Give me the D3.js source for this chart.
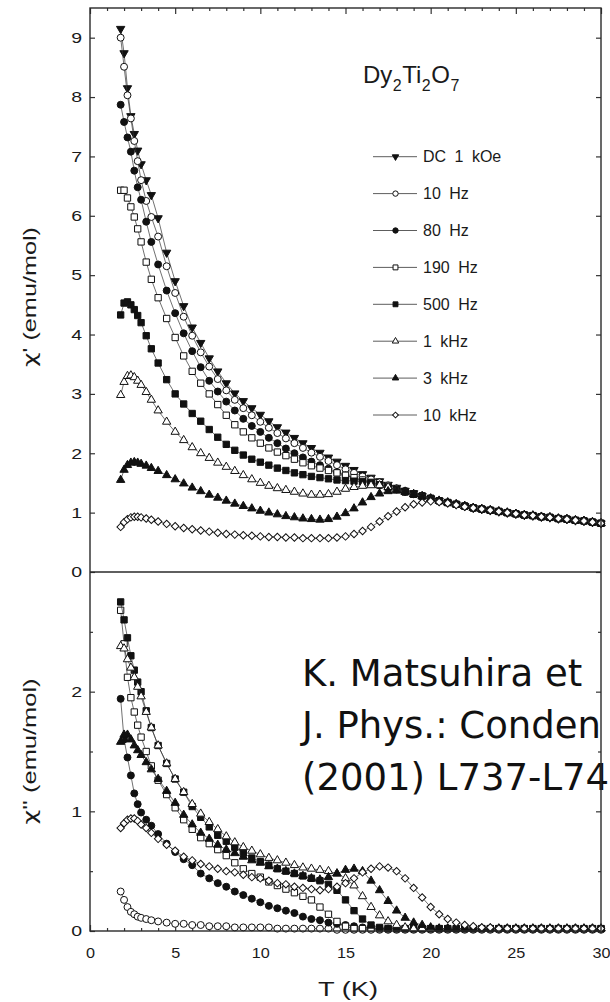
<!DOCTYPE html>
<html>
<head>
<meta charset="utf-8">
<script src="https://cdn.jsdelivr.net/npm/d3@7"></script>
<style>
  body { margin: 0; background: #fff; }
  svg { display: block; }
</style>
</head>
<body>
<svg id="chart" width="610" height="1002"></svg>
<script>
// Temperatures (K) shared by every measurement run
const temperatures = [
  1.8, 2.0, 2.2, 2.4, 2.6, 2.8, 3.0, 3.3, 3.6, 4.0,
  4.5, 5, 5.5, 6, 6.5, 7, 7.5, 8, 8.5, 9,
  9.5, 10, 10.5, 11, 11.5, 12, 12.5, 13, 13.5, 14,
  14.5, 15, 15.5, 16, 16.5, 17, 17.5, 18, 18.5, 19,
  19.5, 20, 20.5, 21, 21.5, 22, 22.5, 23, 23.5, 24,
  24.5, 25, 25.5, 26, 26.5, 27, 27.5, 28, 28.5, 29,
  29.5, 30
];

const seriesLabels = ["DC 1 kOe", "10 Hz", "80 Hz", "190 Hz", "500 Hz", "1 kHz", "3 kHz", "10 kHz"];

// chi' (emu/mol)
const chiRealDC = [
  9.15, 8.74, 8.15, 7.68, 7.38, 7.10, 6.87, 6.60, 6.35, 5.96,
  5.38, 4.90, 4.48, 4.12, 3.86, 3.60, 3.38, 3.18, 3.01, 2.88,
  2.76, 2.65, 2.54, 2.44, 2.35, 2.26, 2.17, 2.09, 2.01, 1.93,
  1.86, 1.79, 1.72, 1.65, 1.59, 1.53, 1.47, 1.42, 1.37, 1.33,
  1.28, 1.24, 1.20, 1.17, 1.14, 1.11, 1.08, 1.06, 1.04, 1.02,
  1.00, 0.98, 0.96, 0.95, 0.93, 0.92, 0.90, 0.89, 0.87, 0.86,
  0.84, 0.82
];
const chiReal10Hz = [
  9.00, 8.51, 8.03, 7.64, 7.26, 6.92, 6.60, 6.25, 5.98, 5.65,
  5.15, 4.70, 4.30, 3.98, 3.70, 3.46, 3.25, 3.06, 2.90, 2.76,
  2.64, 2.53, 2.43, 2.34, 2.25, 2.17, 2.09, 2.01, 1.94, 1.87,
  1.80, 1.73, 1.67, 1.61, 1.56, 1.51, 1.46, 1.41, 1.37, 1.32,
  1.28, 1.24, 1.20, 1.17, 1.14, 1.11, 1.08, 1.06, 1.04, 1.02,
  1.00, 0.98, 0.96, 0.95, 0.93, 0.92, 0.90, 0.89, 0.87, 0.86,
  0.84, 0.82
];
const chiReal80Hz = [
  7.87, 7.58, 7.32, 7.08, 6.76, 6.48, 6.27, 5.90, 5.56, 5.18,
  4.74, 4.36, 4.02, 3.72, 3.45, 3.22, 3.04, 2.87, 2.72, 2.58,
  2.46, 2.36, 2.26, 2.17, 2.08, 2.00, 1.93, 1.86, 1.80, 1.74,
  1.68, 1.63, 1.58, 1.54, 1.50, 1.46, 1.42, 1.39, 1.35, 1.31,
  1.28, 1.24, 1.20, 1.17, 1.14, 1.11, 1.08, 1.06, 1.04, 1.02,
  1.00, 0.98, 0.96, 0.95, 0.93, 0.92, 0.90, 0.89, 0.87, 0.86,
  0.84, 0.82
];
const chiReal190Hz = [
  6.43, 6.43, 6.30, 6.15, 5.98, 5.78, 5.56, 5.22, 4.93, 4.62,
  4.27, 3.95, 3.64, 3.38, 3.18, 3.00, 2.82, 2.64, 2.48, 2.36,
  2.26, 2.17, 2.09, 2.02, 1.96, 1.90, 1.84, 1.79, 1.75, 1.71,
  1.67, 1.63, 1.59, 1.55, 1.51, 1.47, 1.43, 1.39, 1.35, 1.31,
  1.28, 1.24, 1.20, 1.17, 1.14, 1.11, 1.08, 1.06, 1.04, 1.02,
  1.00, 0.98, 0.96, 0.95, 0.93, 0.92, 0.90, 0.89, 0.87, 0.86,
  0.84, 0.82
];
const chiReal500Hz = [
  4.33, 4.53, 4.55, 4.50, 4.42, 4.32, 4.20, 3.98, 3.76, 3.52,
  3.24, 3.00, 2.83, 2.67, 2.54, 2.40, 2.27, 2.15, 2.05, 1.97,
  1.90, 1.85, 1.80, 1.75, 1.71, 1.67, 1.64, 1.61, 1.59, 1.57,
  1.55, 1.54, 1.53, 1.52, 1.50, 1.47, 1.43, 1.39, 1.35, 1.31,
  1.28, 1.24, 1.20, 1.17, 1.14, 1.11, 1.08, 1.06, 1.04, 1.02,
  1.00, 0.98, 0.96, 0.95, 0.93, 0.92, 0.90, 0.89, 0.87, 0.86,
  0.84, 0.82
];
const chiReal1kHz = [
  2.98, 3.20, 3.30, 3.31, 3.28, 3.22, 3.15, 3.03, 2.90, 2.72,
  2.53, 2.36, 2.22, 2.10, 2.00, 1.92, 1.84, 1.77, 1.70, 1.63,
  1.56, 1.50, 1.45, 1.41, 1.38, 1.35, 1.32, 1.30, 1.30, 1.31,
  1.35, 1.40, 1.43, 1.45, 1.46, 1.46, 1.43, 1.39, 1.35, 1.31,
  1.28, 1.24, 1.20, 1.17, 1.14, 1.11, 1.08, 1.06, 1.04, 1.02,
  1.00, 0.98, 0.96, 0.95, 0.93, 0.92, 0.90, 0.89, 0.87, 0.86,
  0.84, 0.82
];
const chiReal3kHz = [
  1.55, 1.72, 1.80, 1.84, 1.85, 1.84, 1.82, 1.79, 1.75, 1.70,
  1.63, 1.56, 1.49, 1.42, 1.36, 1.30, 1.25, 1.20, 1.15, 1.11,
  1.07, 1.03, 1.00, 0.97, 0.94, 0.92, 0.90, 0.89, 0.88, 0.89,
  0.93, 0.99, 1.07, 1.17, 1.26, 1.32, 1.36, 1.37, 1.35, 1.31,
  1.27, 1.23, 1.20, 1.17, 1.14, 1.11, 1.08, 1.06, 1.04, 1.02,
  1.00, 0.98, 0.96, 0.95, 0.93, 0.92, 0.90, 0.89, 0.87, 0.86,
  0.84, 0.82
];
const chiReal10kHz = [
  0.76, 0.84, 0.89, 0.92, 0.93, 0.93, 0.92, 0.90, 0.88, 0.85,
  0.81, 0.77, 0.74, 0.72, 0.70, 0.68, 0.66, 0.64, 0.63, 0.62,
  0.61, 0.60, 0.59, 0.59, 0.58, 0.58, 0.57, 0.57, 0.57, 0.57,
  0.58, 0.60, 0.64, 0.69, 0.76, 0.85, 0.94, 1.02, 1.09, 1.14,
  1.17, 1.19, 1.18, 1.16, 1.13, 1.10, 1.08, 1.06, 1.04, 1.02,
  1.00, 0.98, 0.96, 0.95, 0.93, 0.92, 0.90, 0.89, 0.87, 0.86,
  0.84, 0.82
];

// chi'' (emu/mol), ac runs only
const chiImag10Hz = [
  0.33, 0.26, 0.20, 0.16, 0.14, 0.12, 0.11, 0.10, 0.09, 0.08,
  0.07, 0.06, 0.06, 0.05, 0.05, 0.04, 0.04, 0.04, 0.03, 0.03,
  0.03, 0.03, 0.03, 0.02, 0.02, 0.02, 0.02, 0.02, 0.02, 0.02,
  0.01, 0.01, 0.01, 0.01, 0.01, 0.01, 0.01, 0.01, 0.01, 0.01,
  0.01, 0.01, 0.01, 0.01, 0.01, 0.01, 0.01, 0.01, 0.01, 0.01,
  0.01, 0.01, 0.01, 0.01, 0.01, 0.01, 0.01, 0.01, 0.01, 0.01,
  0.01, 0.01
];
const chiImag80Hz = [
  1.94, 1.60, 1.45, 1.30, 1.15, 1.06, 0.99, 0.93, 0.88, 0.81,
  0.73, 0.66, 0.60, 0.55, 0.48, 0.44, 0.40, 0.37, 0.33, 0.30,
  0.27, 0.24, 0.21, 0.19, 0.17, 0.15, 0.12, 0.10, 0.09, 0.07,
  0.06, 0.05, 0.04, 0.03, 0.03, 0.02, 0.02, 0.02, 0.02, 0.02,
  0.02, 0.02, 0.02, 0.02, 0.02, 0.02, 0.02, 0.02, 0.02, 0.02,
  0.02, 0.02, 0.02, 0.02, 0.02, 0.02, 0.02, 0.02, 0.02, 0.02,
  0.02, 0.02
];
const chiImag190Hz = [
  2.68, 2.40, 2.12, 1.95, 1.83, 1.72, 1.62, 1.50, 1.38, 1.26,
  1.14, 1.03, 0.93, 0.85, 0.78, 0.73, 0.68, 0.63, 0.57, 0.52,
  0.48, 0.45, 0.41, 0.38, 0.35, 0.32, 0.29, 0.26, 0.20, 0.14,
  0.08, 0.04, 0.02, 0.02, 0.02, 0.02, 0.02, 0.02, 0.02, 0.02,
  0.02, 0.02, 0.02, 0.02, 0.02, 0.02, 0.02, 0.02, 0.02, 0.02,
  0.02, 0.02, 0.02, 0.02, 0.02, 0.02, 0.02, 0.02, 0.02, 0.02,
  0.02, 0.02
];
const chiImag500Hz = [
  2.75, 2.60, 2.45, 2.30, 2.18, 2.08, 2.00, 1.84, 1.70, 1.55,
  1.40, 1.27, 1.16, 1.04, 0.95, 0.87, 0.80, 0.75, 0.70, 0.65,
  0.61, 0.58, 0.55, 0.52, 0.50, 0.48, 0.46, 0.44, 0.42, 0.39,
  0.34, 0.26, 0.17, 0.10, 0.05, 0.03, 0.02, 0.02, 0.02, 0.02,
  0.02, 0.02, 0.02, 0.02, 0.02, 0.02, 0.02, 0.02, 0.02, 0.02,
  0.02, 0.02, 0.02, 0.02, 0.02, 0.02, 0.02, 0.02, 0.02, 0.02,
  0.02, 0.02
];
const chiImag1kHz = [
  2.38, 2.36, 2.27, 2.20, 2.12, 2.04, 1.96, 1.83, 1.70, 1.55,
  1.40, 1.27, 1.16, 1.06, 0.98, 0.91, 0.85, 0.79, 0.74, 0.70,
  0.67, 0.64, 0.61, 0.59, 0.57, 0.55, 0.53, 0.52, 0.51, 0.50,
  0.48, 0.44, 0.38, 0.29, 0.20, 0.13, 0.08, 0.05, 0.03, 0.02,
  0.02, 0.02, 0.02, 0.02, 0.02, 0.02, 0.02, 0.02, 0.02, 0.02,
  0.02, 0.02, 0.02, 0.02, 0.02, 0.02, 0.02, 0.02, 0.02, 0.02,
  0.02, 0.02
];
const chiImag3kHz = [
  1.58, 1.64, 1.64, 1.60, 1.55, 1.51, 1.47, 1.41, 1.35, 1.27,
  1.17, 1.07, 0.97, 0.89, 0.82, 0.77, 0.72, 0.68, 0.65, 0.62,
  0.59, 0.57, 0.54, 0.52, 0.50, 0.48, 0.46, 0.44, 0.43, 0.45,
  0.48, 0.51, 0.52, 0.50, 0.42, 0.34, 0.25, 0.17, 0.11, 0.07,
  0.05, 0.03, 0.02, 0.02, 0.02, 0.02, 0.02, 0.02, 0.02, 0.02,
  0.02, 0.02, 0.02, 0.02, 0.02, 0.02, 0.02, 0.02, 0.02, 0.02,
  0.02, 0.02
];
const chiImag10kHz = [
  0.86, 0.90, 0.93, 0.94, 0.94, 0.92, 0.89, 0.86, 0.82, 0.77,
  0.72, 0.67, 0.62, 0.59, 0.56, 0.54, 0.52, 0.50, 0.49, 0.47,
  0.45, 0.44, 0.42, 0.40, 0.39, 0.37, 0.36, 0.35, 0.34, 0.35,
  0.37, 0.40, 0.44, 0.49, 0.52, 0.54, 0.53, 0.50, 0.44, 0.36,
  0.28, 0.20, 0.14, 0.10, 0.07, 0.05, 0.04, 0.03, 0.03, 0.02,
  0.02, 0.02, 0.02, 0.02, 0.02, 0.02, 0.02, 0.02, 0.02, 0.02,
  0.02, 0.02
];

const xTickValues = [0, 5, 10, 15, 20, 25, 30];
const yTickValuesReal = [0, 1, 2, 3, 4, 5, 6, 7, 8, 9];
const yTickValuesImag = [0, 1, 2];

// reference note, as much of each line as shows inside the page
const citationLines = [
  "K. Matsuhira et",
  "J. Phys.: Conden",
  "(2001) L737-L74"
];

// ---------------------------------------------------------------------
const sansFont = "'Liberation Sans', Arial, Helvetica, sans-serif";
const greekFont = "'DejaVu Sans', sans-serif";
const ink = "#1a1a1a";

// marker style per run, same order as seriesLabels
const markerStyles = [
  { shape: d3.symbolTriangle, area: 30, rotate: 180, filled: true },
  { shape: d3.symbolCircle,   area: 38, rotate: 0,   filled: false },
  { shape: d3.symbolCircle,   area: 38, rotate: 0,   filled: true },
  { shape: d3.symbolSquare,   area: 40, rotate: 0,   filled: false },
  { shape: d3.symbolSquare,   area: 40, rotate: 0,   filled: true },
  { shape: d3.symbolTriangle, area: 30, rotate: 0,   filled: false },
  { shape: d3.symbolTriangle, area: 30, rotate: 0,   filled: true },
  { shape: d3.symbolSquare,   area: 28, rotate: 45,  filled: false }
];

const realRuns = [chiRealDC, chiReal10Hz, chiReal80Hz, chiReal190Hz,
                  chiReal500Hz, chiReal1kHz, chiReal3kHz, chiReal10kHz];
const imagRuns = [null, chiImag10Hz, chiImag80Hz, chiImag190Hz,
                  chiImag500Hz, chiImag1kHz, chiImag3kHz, chiImag10kHz];

const svg = d3.select("#chart");

const frame = { left: 90, right: 601, top: 8, mid: 572, bottom: 931 };

const x = d3.scaleLinear().domain([0, 30]).range([frame.left, frame.right]);
const yReal = d3.scaleLinear().domain([0, 9.5]).range([frame.mid, frame.top]);
const yImag = d3.scaleLinear().domain([0, 3]).range([frame.bottom, frame.mid]);

// ---- axes -------------------------------------------------------------
function addAxis(axis, tx, ty) {
  const g = svg.append("g").attr("transform", `translate(${tx},${ty})`).call(axis);
  g.select(".domain").remove();
  g.selectAll(".tick line").attr("stroke", "#333").attr("stroke-width", 1.2);
  g.selectAll(".tick text").attr("font-family", sansFont).attr("fill", ink);
  return g;
}

// widen vertical-axis numerals about their right edge
function widenLeftLabels(g) {
  g.selectAll(".tick text").each(function () {
    const t = d3.select(this);
    const x0 = +t.attr("x");
    t.attr("x", 0).attr("transform", `translate(${x0},0) scale(1.3,1)`);
  });
}

const intFormat = d3.format("d");
const minorX = d3.range(0, 31).filter(v => v % 5);

// bottom x axis: labelled majors + minor ticks
const xMajor = addAxis(d3.axisBottom(x).tickValues(xTickValues).tickSize(-6).tickPadding(16).tickFormat(intFormat), 0, frame.bottom);
xMajor.selectAll(".tick text").attr("font-size", 15).attr("transform", "scale(1.08,1)");
addAxis(d3.axisBottom(x).tickValues(minorX).tickSize(-3).tickFormat(""), 0, frame.bottom);
// top frame ticks
addAxis(d3.axisTop(x).tickValues(xTickValues).tickSize(-6).tickFormat(""), 0, frame.top);
addAxis(d3.axisTop(x).tickValues(minorX).tickSize(-3).tickFormat(""), 0, frame.top);

// chi' panel
const yReLeft = addAxis(d3.axisLeft(yReal).tickValues(yTickValuesReal).tickSize(-5).tickPadding(8).tickFormat(intFormat), frame.left, 0);
yReLeft.selectAll(".tick text").attr("font-size", 15);
widenLeftLabels(yReLeft);
addAxis(d3.axisRight(yReal).tickValues(yTickValuesReal).tickSize(-5).tickFormat(""), frame.right, 0);

// chi'' panel
const yImLeft = addAxis(d3.axisLeft(yImag).tickValues(yTickValuesImag).tickSize(-5).tickPadding(8).tickFormat(intFormat), frame.left, 0);
yImLeft.selectAll(".tick text").attr("font-size", 15);
widenLeftLabels(yImLeft);
addAxis(d3.axisLeft(yImag).tickValues([0.5, 1.5, 2.5]).tickSize(-3).tickFormat(""), frame.left, 0);
addAxis(d3.axisRight(yImag).tickValues(yTickValuesImag).tickSize(-5).tickFormat(""), frame.right, 0);
addAxis(d3.axisRight(yImag).tickValues([0.5, 1.5, 2.5]).tickSize(-3).tickFormat(""), frame.right, 0);

// ---- axis titles ------------------------------------------------------
function yTitle(cy, primes, length) {
  const t = svg.append("text")
    .attr("transform", `translate(36,${cy}) rotate(-90)`)
    .attr("text-anchor", "middle")
    .attr("font-family", sansFont).attr("font-size", 18).attr("fill", ink)
    .attr("textLength", length).attr("lengthAdjust", "spacingAndGlyphs");
  t.append("tspan").attr("font-family", greekFont).text("χ");
  t.append("tspan").text(primes + " (emu/mol)");
}
yTitle((frame.top + frame.mid) / 2 + 7, "'", 140);
yTitle((frame.mid + frame.bottom) / 2, "''", 146);

svg.append("text")
  .attr("x", 348).attr("y", 996)
  .attr("text-anchor", "middle")
  .attr("font-family", sansFont).attr("font-size", 20).attr("fill", ink)
  .attr("textLength", 60).attr("lengthAdjust", "spacingAndGlyphs")
  .text("T (K)");

// ---- data -------------------------------------------------------------
function markerPath(style, scale) {
  return d3.symbol(style.shape, style.area * scale)();
}

function drawRun(values, yScale, style) {
  const pts = temperatures.map((t, i) => [t, values[i]]);
  const g = svg.append("g");
  g.append("path")
    .attr("d", d3.line().x(d => x(d[0])).y(d => yScale(d[1]))(pts))
    .attr("fill", "none").attr("stroke", "#333").attr("stroke-width", 0.7);
  g.selectAll("path.m")
    .data(pts)
    .join("path")
    .attr("class", "m")
    .attr("d", markerPath(style, 1))
    .attr("transform", d => `translate(${x(d[0])},${yScale(d[1])}) rotate(${style.rotate})`)
    .attr("fill", style.filled ? "#111" : "#fff")
    .attr("stroke", "#111").attr("stroke-width", 1);
}

realRuns.forEach((run, i) => drawRun(run, yReal, markerStyles[i]));
imagRuns.forEach((run, i) => { if (run) drawRun(run, yImag, markerStyles[i]); });

// ---- compound label ---------------------------------------------------
const title = svg.append("text")
  .attr("x", 363).attr("y", 83)
  .attr("font-family", sansFont).attr("font-size", 24).attr("fill", ink);
title.append("tspan").text("Dy");
title.append("tspan").attr("dx", 0.5).attr("dy", 8).attr("font-size", 16).text("2");
title.append("tspan").attr("dx", 0.5).attr("dy", -8).text("Ti");
title.append("tspan").attr("dx", 0.5).attr("dy", 8).attr("font-size", 16).text("2");
title.append("tspan").attr("dx", 0.5).attr("dy", -8).text("O");
title.append("tspan").attr("dx", 0.5).attr("dy", 8).attr("font-size", 16).text("7");

// ---- legend -----------------------------------------------------------
const legend = svg.append("g");
seriesLabels.forEach((label, i) => {
  const cy = 156.7 + i * 36.9;
  const style = markerStyles[i];
  legend.append("line")
    .attr("x1", 373).attr("x2", 417).attr("y1", cy).attr("y2", cy)
    .attr("stroke", "#333").attr("stroke-width", 0.8);
  legend.append("path")
    .attr("d", markerPath(style, 0.6))
    .attr("transform", `translate(395.5,${cy}) rotate(${style.rotate})`)
    .attr("fill", style.filled ? "#111" : "#fff")
    .attr("stroke", "#111").attr("stroke-width", 1);
  legend.append("text")
    .attr("x", 423).attr("y", cy + 5.5)
    .attr("font-family", sansFont).attr("font-size", 16)
    .attr("word-spacing", 4).attr("fill", ink)
    .text(label);
});

// ---- reference note ---------------------------------------------------
const note = svg.append("g")
  .attr("font-family", "'DejaVu Sans', Verdana, sans-serif")
  .attr("font-size", 37).attr("fill", "#111");
citationLines.forEach((line, i) => {
  note.append("text").attr("x", 302).attr("y", 686 + i * 52).text(line);
});

// ---- frame and panel divider (on top) -----------------------------------
svg.append("rect")
  .attr("x", frame.left).attr("y", frame.top)
  .attr("width", frame.right - frame.left).attr("height", frame.bottom - frame.top)
  .attr("fill", "none").attr("stroke", "#2a2a2a").attr("stroke-width", 1.4);
svg.append("line")
  .attr("x1", frame.left).attr("x2", frame.right)
  .attr("y1", yReal(0)).attr("y2", yReal(0))
  .attr("stroke", "#2a2a2a").attr("stroke-width", 1.3);
</script>
</body>
</html>
